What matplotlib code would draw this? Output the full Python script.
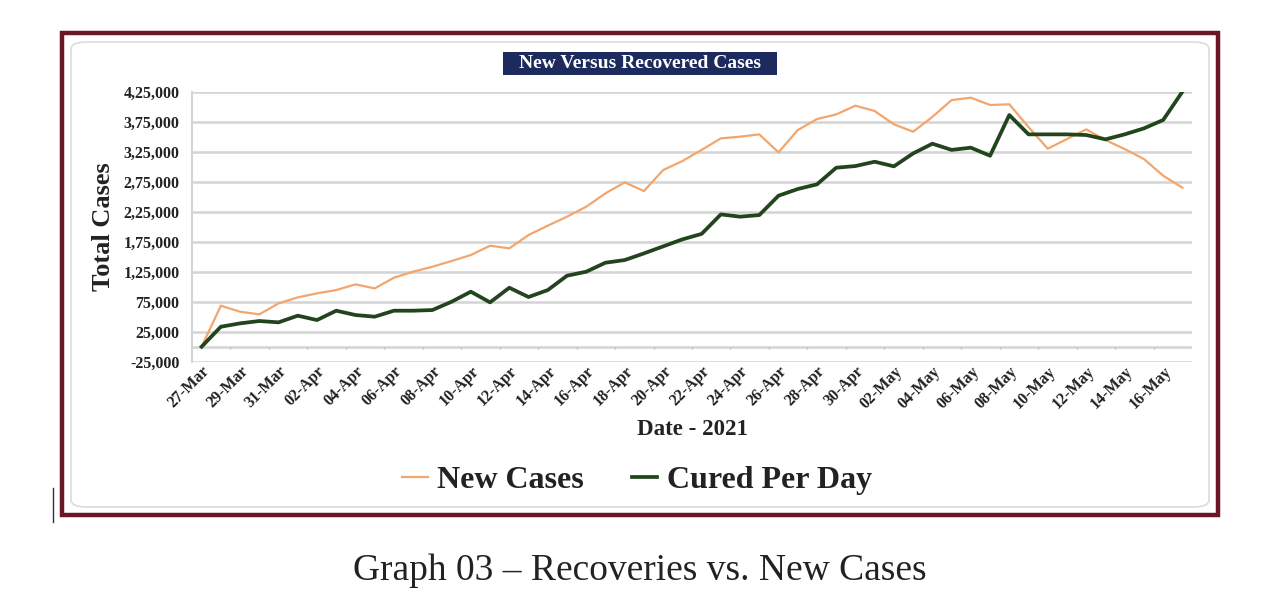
import numpy as np
import pandas as pd
import matplotlib
matplotlib.use('Agg')
import matplotlib.pyplot as plt
from matplotlib.patches import Rectangle, FancyBboxPatch
from matplotlib.lines import Line2D
from matplotlib.ticker import FuncFormatter

plt.rcParams['font.family'] = ['Liberation Serif', 'DejaVu Serif']

# daily values, 27-Mar-2021 .. 17-May-2021
dates = pd.date_range('2021-03-27', periods=52).strftime('%d-%b').tolist()
new_cases = [0, 68300, 58300, 53900, 72200, 82200, 88900, 94400, 103900, 97200,
             115000, 125000, 133300, 142800, 152800, 168300, 163900, 186100, 201700, 216700,
             233300, 255600, 273900, 259400, 294400, 309400, 328000, 347200, 350000, 353900,
             323900, 361100, 379400, 387200, 401700, 392800, 370600, 358300, 383000, 411000,
             415000, 402800, 404000, 366000, 330000, 346100, 362200, 344400, 329400, 312800,
             285000, 265000]
cured = [0, 33300, 38900, 42800, 40600, 51700, 44400, 60000, 52800, 50000,
         60000, 60000, 61100, 75000, 91700, 73900, 98300, 82800, 94400, 118300,
         125000, 140000, 144400, 155500, 167200, 178900, 188000, 220500, 216700, 219400,
         251700, 262800, 270600, 298300, 301100, 308300, 300600, 322200, 338300, 328000,
         331700, 318300, 386100, 353900, 353900, 353900, 352800, 345600, 353900, 363900,
         377800, 425000]
y_ticks = list(range(-25000, 425001, 50000))

ORANGE = '#f2a66e'
GREEN = '#22451d'
GRID = '#d4d4d4'
TEXT = '#222222'


def indian(v, pos=None):
    # 425000 -> 4,25,000
    v = int(round(v))
    sign = '-' if v < 0 else ''
    s = str(abs(v))
    if len(s) > 3:
        head, tail = s[:-3], s[-3:]
        groups = []
        while len(head) > 2:
            groups.insert(0, head[-2:])
            head = head[:-2]
        if head:
            groups.insert(0, head)
        s = ','.join(groups) + ',' + tail
    return sign + s


fig = plt.figure(figsize=(12.8, 6.06), dpi=100)

# outer maroon frame and inner rounded chart area
fig.patches.append(Rectangle((62 / 1280, 1 - 515 / 606), 1156 / 1280, 482 / 606,
                             transform=fig.transFigure, fill=False,
                             edgecolor='#6b1624', linewidth=3.2))
fig.patches.append(FancyBboxPatch((71 / 1280, 1 - 507 / 606), 1138 / 1280, 465 / 606,
                                  boxstyle='round,pad=0,rounding_size=0.012',
                                  transform=fig.transFigure, fill=False,
                                  edgecolor='#dcdcdc', linewidth=1.2))

ax = fig.add_axes([192 / 1280, 1 - 361.7 / 606, 1000 / 1280, 270 / 606])
x = np.arange(len(dates))

ax.plot(x, new_cases, color=ORANGE, linewidth=1.6, label='New Cases', zorder=3)
ax.plot(x, cured, color=GREEN, linewidth=2.7, label='Cured Per Day', zorder=4)

ax.set_xlim(-0.5, len(dates) - 0.5)
ax.set_ylim(-25000, 425000)
ax.set_yticks(y_ticks)
ax.yaxis.set_major_formatter(FuncFormatter(indian))
ax.yaxis.grid(True, color=GRID, linewidth=1.8)
ax.set_axisbelow(True)

# zero line with small tick marks every two days
ax.axhline(0, color=GRID, linewidth=1.8, zorder=1)
ax.vlines(np.arange(1.5, len(dates), 2), -4500, 0, color='#bdbdbd', linewidth=1, zorder=1)

ax.set_xticks(x[::2])
ax.set_xticklabels(dates[::2], rotation=45, ha='right', rotation_mode='anchor')
ax.tick_params(axis='x', length=0, pad=1, labelsize=11.5, labelcolor=TEXT)
ax.tick_params(axis='y', length=0, pad=9, labelsize=11.5, labelcolor=TEXT)
for lab in ax.get_xticklabels() + ax.get_yticklabels():
    lab.set_fontweight('bold')

for side in ['top', 'right', 'bottom']:
    ax.spines[side].set_visible(False)
ax.spines['left'].set_color(GRID)
ax.spines['left'].set_linewidth(1.5)

ax.set_ylabel('Total Cases', fontsize=19, fontweight='bold', color=TEXT, labelpad=6)
ax.set_xlabel('Date - 2021', fontsize=16.5, fontweight='bold', color=TEXT, labelpad=5)

# title on a navy strip
fig.patches.append(Rectangle((503 / 1280, 1 - 75 / 606), 274 / 1280, 23 / 606,
                             transform=fig.transFigure, facecolor='#1c2a5e', edgecolor='none'))
fig.text(640 / 1280, 1 - 63.5 / 606, 'New Versus Recovered Cases', ha='center', va='center',
         fontsize=14, fontweight='bold', color='white')

handles = [Line2D([], [], color=ORANGE, linewidth=1.6), Line2D([], [], color=GREEN, linewidth=2.7)]
fig.legend(handles, ['New Cases', 'Cured Per Day'], loc='center', ncol=2,
           bbox_to_anchor=(637 / 1280, 1 - 480 / 606), frameon=False,
           prop={'size': 23, 'weight': 'bold'}, handlelength=0.8, handletextpad=0.3,
           columnspacing=1.5, labelcolor=TEXT)

# text cursor left of the frame
fig.add_artist(Line2D([53 / 1280, 53 / 1280], [1 - 522 / 606, 1 - 488 / 606],
                      transform=fig.transFigure, color='#333333', linewidth=1))

fig.text(640 / 1280, 1 - 571 / 606, 'Graph 03 \u2013 Recoveries vs. New Cases', ha='center',
         va='center', fontsize=27, color=TEXT)

plt.savefig('out.png', dpi=100)
